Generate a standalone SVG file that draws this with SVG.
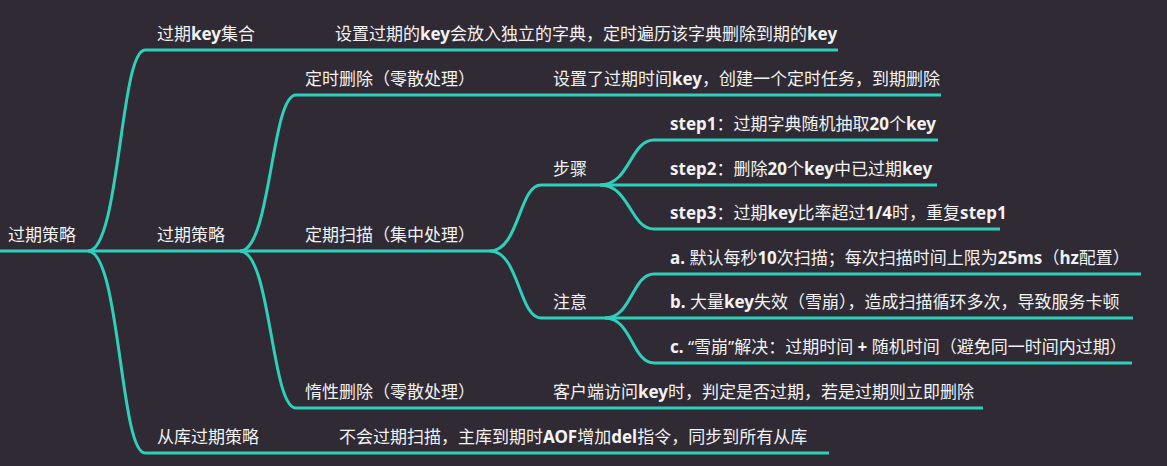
<svg xmlns="http://www.w3.org/2000/svg" width="1167" height="466" viewBox="0 0 1167 466">
<style>
.bg{fill:#2f2a33}
.c{fill:none;stroke:#2fd0bb;stroke-width:3;stroke-linecap:butt}
text{font-family:"Noto Sans","Noto Sans CJK SC",sans-serif;font-size:17px;fill:#f2f2f2}
.b{font-weight:bold}
</style>
<rect class="bg" x="0" y="0" width="1167" height="466"/>
<g id="connectors">
<path class="c" d="M0 251 H240"/>
<path class="c" d="M88 251 C120 251 120 50 145 50 H838"/>
<path class="c" d="M88 251 C120 251 120 453 145 453 H829"/>
<path class="c" d="M240 251 C271 251 271 95 296 95 H941"/>
<path class="c" d="M240 251 C271 251 271 408 296 408 H983"/>
<path class="c" d="M240 251 H490"/>
<path class="c" d="M490 251 C519 251 519 185 541 185 H600"/>
<path class="c" d="M490 251 C519 251 519 318 541 318 H605"/>
<path class="c" d="M600 185 C630 185 630 140 654 140 H938"/>
<path class="c" d="M600 185 H937"/>
<path class="c" d="M600 185 C630 185 630 229 654 229 H1000"/>
<path class="c" d="M605 318 C632 318 632 274 654 274 H1141"/>
<path class="c" d="M605 318 H1133"/>
<path class="c" d="M605 318 C632 318 632 363 654 363 H1132"/>
</g>
<g id="root"><text x="8" y="241">过期策略</text></g>
<g id="n-keyset"><text x="157" y="40">过期<tspan class="b">key</tspan>集合</text></g>
<g id="n-keyset-desc"><text x="335" y="40">设置过期的<tspan class="b">key</tspan>会放入独立的字典，定时遍历该字典删除到期的<tspan class="b">key</tspan></text></g>
<g id="n-strategy"><text x="157" y="241">过期策略</text></g>
<g id="n-slave"><text x="157" y="443">从库过期策略</text></g>
<g id="n-slave-desc"><text x="339" y="443">不会过期扫描，主库到期时<tspan class="b">AOF</tspan>增加<tspan class="b">del</tspan>指令，同步到所有从库</text></g>
<g id="n-timed"><text x="305" y="85">定时删除（零散处理）</text></g>
<g id="n-timed-desc"><text x="553" y="85">设置了过期时间<tspan class="b">key</tspan>，创建一个定时任务，到期删除</text></g>
<g id="n-periodic"><text x="305" y="241">定期扫描（集中处理）</text></g>
<g id="n-lazy"><text x="305" y="398">惰性删除（零散处理）</text></g>
<g id="n-lazy-desc"><text x="553" y="398">客户端访问<tspan class="b">key</tspan>时，判定是否过期，若是过期则立即删除</text></g>
<g id="n-steps"><text x="553" y="175">步骤</text></g>
<g id="n-notes"><text x="553" y="308">注意</text></g>
<g id="n-step1"><text x="670" y="130"><tspan class="b">step1</tspan>：过期字典随机抽取<tspan class="b">20</tspan>个<tspan class="b">key</tspan></text></g>
<g id="n-step2"><text x="670" y="175"><tspan class="b">step2</tspan>：删除<tspan class="b">20</tspan>个<tspan class="b">key</tspan>中已过期<tspan class="b">key</tspan></text></g>
<g id="n-step3"><text x="670" y="219"><tspan class="b">step3</tspan>：过期<tspan class="b">key</tspan>比率超过<tspan class="b">1/4</tspan>时，重复<tspan class="b">step1</tspan></text></g>
<g id="n-note-a"><text x="670" y="264"><tspan class="b">a.</tspan> 默认每秒<tspan class="b">10</tspan>次扫描；每次扫描时间上限为<tspan class="b">25ms</tspan>（<tspan class="b">hz</tspan>配置）</text></g>
<g id="n-note-b"><text x="670" y="308"><tspan class="b">b.</tspan> 大量<tspan class="b">key</tspan>失效（雪崩），造成扫描循环多次，导致服务卡顿</text></g>
<g id="n-note-c"><text x="670" y="353"><tspan class="b">c.</tspan> “雪崩”解决：过期时间 <tspan class="b">+</tspan> 随机时间（避免同一时间内过期）</text></g>
</svg>
